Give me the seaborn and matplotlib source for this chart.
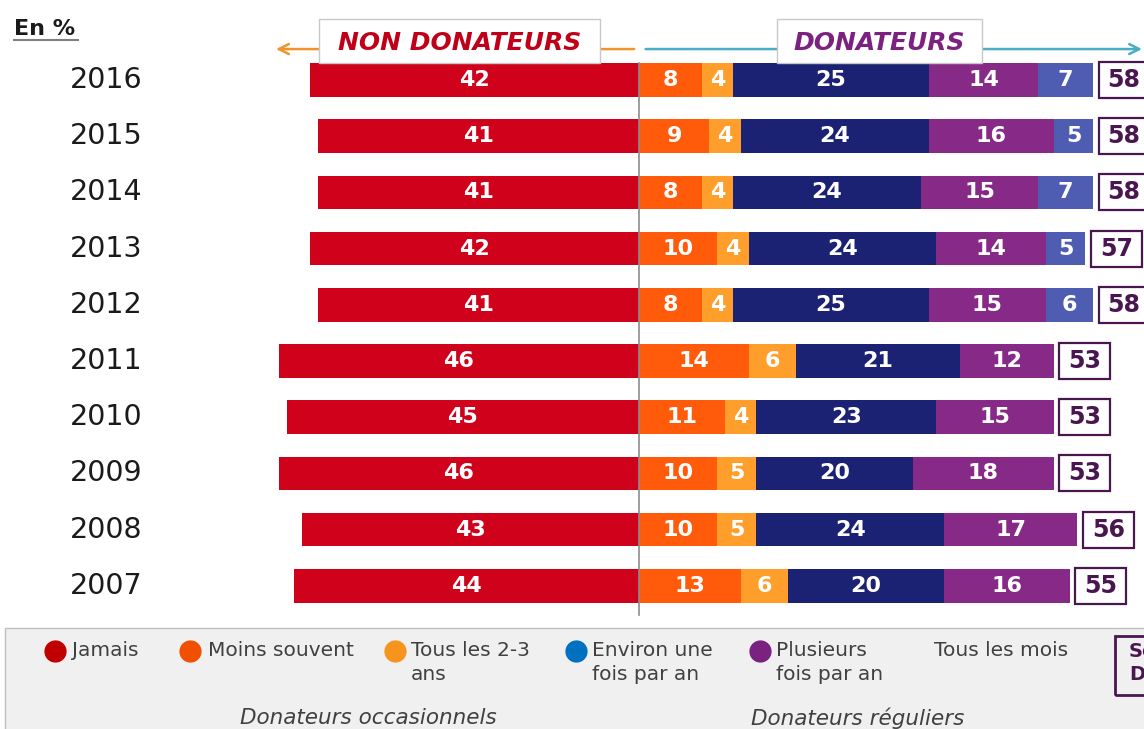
#donations by frequency, non donors vs donors, 2007-2016

import pandas as pd
import seaborn as sns
import numpy as np
import matplotlib.pyplot as plt
from matplotlib.patches import Rectangle
from matplotlib.lines import Line2D

years=["2016","2015","2014","2013","2012","2011","2010","2009","2008","2007"]
jamais=[42,41,41,42,41,46,45,46,43,44]
moins_souvent=[8,9,8,10,8,14,11,10,10,13]
tous_2_3_ans=[4,4,4,4,4,6,4,5,5,6]
une_fois_par_an=[25,24,24,24,25,21,23,20,24,20]
plusieurs_fois=[14,16,15,14,15,12,15,18,17,16]
tous_les_mois=[7,5,7,5,6,0,0,0,0,0]
total_donateurs=[58,58,58,57,58,53,53,53,56,55]

bar_colors=["#FF5B0A","#FF9E2A","#1B2173","#862987","#4E5CB2"]
red="#D0021B"
purple_dark="#4A1650"

W,H=1144,729
def px(x,y):
	return (x/W,1-y/H)

fig=plt.figure(figsize=(W/100,H/100),dpi=100)
ax=fig.add_axes([0,0,1,1])

df=pd.DataFrame({"year":years,"jamais":jamais})
segments=[moins_souvent,tous_2_3_ans,une_fois_par_an,plusieurs_fois,tous_les_mois]
cums=np.cumsum(np.array(segments),axis=0)

#left side (negative)
df["neg"]=-df["jamais"]
sns.barplot(data=df,x="neg",y="year",order=years,orient="h",color=red,saturation=1,width=0.6,linewidth=0,errorbar=None,ax=ax)

#right side: draw cumulative layers from outermost inwards
for i in range(len(segments)-1,-1,-1):
	df["cum"]=cums[i]
	sns.barplot(data=df,x="cum",y="year",order=years,orient="h",color=bar_colors[i],saturation=1,width=0.6,linewidth=0,errorbar=None,ax=ax)

lab=dict(color="white",fontsize=16,fontweight="bold",ha="center",va="center")
for r in range(len(years)):
	ax.text(-jamais[r]/2,r,str(jamais[r]),**lab)
	start=0
	for i,seg in enumerate(segments):
		v=seg[r]
		if v>0:
			ax.text(start+v/2,r,str(v),**lab)
		start+=v
	#total box
	ax.add_patch(Rectangle((start+0.7,r-0.32),6.5,0.64,fc="white",ec=purple_dark,lw=1.6,zorder=3))
	ax.text(start+0.7+3.25,r,str(total_donateurs[r]),color=purple_dark,fontsize=17,fontweight="bold",ha="center",va="center",zorder=4)
	ax.text(-68,r,years[r],color="#1a1a1a",fontsize=20.5,ha="center",va="center")

ax.set_xlim(-81.6,64.5)
ax.set_ylim(11.548,-1.423)
ax.axis("off")

#centre line
ax.plot([0,0],[-0.3,9.52],color="#8c8c8c",lw=1.2,zorder=5)

#arrows
ax.annotate("",xy=(-46.7,-0.55),xytext=(-0.26,-0.55),arrowprops=dict(arrowstyle="->",color="#F0952C",lw=1.8,mutation_scale=18))
ax.annotate("",xy=(64.6,-0.55),xytext=(0.5,-0.55),arrowprops=dict(arrowstyle="->",color="#4BACC6",lw=1.8,mutation_scale=18),annotation_clip=False)

#headers
ax.add_patch(Rectangle((-40.9,-1.085),35.9,0.783,fc="white",ec="#c8c8c8",lw=1,zorder=4))
ax.text(-22.9,-0.66,"NON DONATEURS",color="#C00018",fontsize=18,fontweight="bold",fontstyle="italic",ha="center",va="center",zorder=5)
ax.add_patch(Rectangle((17.6,-1.085),26.2,0.783,fc="white",ec="#c8c8c8",lw=1,zorder=4))
ax.text(30.7,-0.66,"DONATEURS",color="#7B2180",fontsize=18,fontweight="bold",fontstyle="italic",ha="center",va="center",zorder=5)

#En %
fig.text(*px(14,29),"En %",fontsize=16,fontweight="bold",color="#1a1a1a",ha="left",va="center")
fig.add_artist(Line2D([14/W,78/W],[1-40/H,1-40/H],color="#808080",lw=1.5))

#legend box
fig.add_artist(Rectangle(px(5,735),1150/W,107/H,transform=fig.transFigure,fc="#F0F0F0",ec="#BFBFBF",lw=1))
legend_items=[("Jamais","#C00000",55,72),("Moins souvent","#F05000",190,208),("Tous les 2-3\nans","#F7941E",395,411),
	("Environ une\nfois par an","#0070C0",576,592),("Plusieurs\nfois par an","#7B2180",760,776),("Tous les mois",None,None,934)]
for (txt,c,cx,tx) in legend_items:
	if c is not None:
		fig.add_artist(Line2D([cx/W],[1-651/H],marker="o",ms=15,color=c,lw=0))
	fig.text(*px(tx,641),txt,fontsize=14.5,color="#404040",ha="left",va="top",linespacing=1.3)
fig.add_artist(Rectangle(px(1115,695),60/W,59/H,transform=fig.transFigure,fc="none",ec=purple_dark,lw=2))
fig.text(*px(1129,642),"Sous-total\nDonateurs",fontsize=14,fontweight="bold",color=purple_dark,ha="left",va="top",linespacing=1.3)
fig.text(*px(368,718),"Donateurs occasionnels",fontsize=15.5,fontstyle="italic",color="#404040",ha="center",va="center")
fig.text(*px(858,718),"Donateurs réguliers",fontsize=15.5,fontstyle="italic",color="#404040",ha="center",va="center")

plt.savefig("out.png",dpi=100)
